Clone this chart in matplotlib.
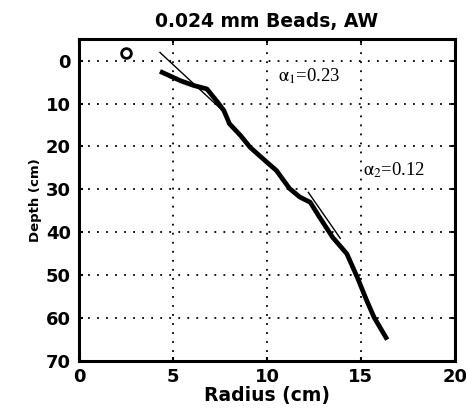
import matplotlib
matplotlib.use("Agg")
import matplotlib.pyplot as plt

# measured profile (radius cm, depth cm)
radius = [4.3, 5.4, 6.1, 6.8, 7.3, 7.7, 8.0, 8.6, 9.1, 10.0, 10.5, 11.2, 11.75, 12.3, 12.8, 13.5, 14.25, 14.8, 15.3, 15.7, 16.4]
depth = [2.5, 4.7, 5.8, 6.6, 9.3, 11.6, 14.7, 17.5, 20.2, 23.7, 25.6, 29.8, 31.8, 33.0, 36.5, 41.2, 45.0, 50.4, 55.8, 59.8, 65.0]

# fitted slopes
fit1_r = [4.3, 7.6]
fit1_d = [-1.9, 11.5]
fit2_r = [12.2, 13.9]
fit2_d = [30.7, 41.4]

marker_r = [2.5]
marker_d = [-1.8]

alpha_labels = [r"$\mathrm{\alpha_1}$=0.23", r"$\mathrm{\alpha_2}$=0.12"]
alpha_pos = [(10.6, 3.5), (15.1, 25.6)]

xticks = [0, 5, 10, 15, 20]
yticks = [0, 10, 20, 30, 40, 50, 60, 70]

plt.rcParams["mathtext.fontset"] = "stix"

fig = plt.figure(figsize=(4.66, 4.08), dpi=100)
ax = fig.add_axes([0.170, 0.115, 0.806, 0.789])

ax.plot(radius, depth, color="black", lw=3.4, solid_capstyle="butt", solid_joinstyle="round")
ax.plot(fit1_r, fit1_d, color="black", lw=1.0)
ax.plot(fit2_r, fit2_d, color="black", lw=1.0)
ax.plot(marker_r, marker_d, "o", mfc="white", mec="black", mew=2.0, ms=7)

for lab, (x, y) in zip(alpha_labels, alpha_pos):
    ax.text(x, y, lab, fontsize=13.5, family="Liberation Serif", ha="left", va="center")

ax.set_xlim(0, 20)
ax.set_ylim(70, -5)
ax.set_xticks(xticks)
ax.set_yticks(yticks)
ax.set_xticklabels([str(t) for t in xticks], fontweight="heavy", fontsize=13)
ax.set_yticklabels([str(t) for t in yticks], fontweight="heavy", fontsize=13)
ax.grid(True, color="black", linestyle=(0, (1, 4)), lw=1.3)
for s in ax.spines.values():
    s.set_linewidth(2.2)
ax.tick_params(direction="in", length=3, width=1.5, top=True, right=True)
ax.tick_params(axis="y", pad=6)
ax.tick_params(axis="x", pad=5)

ax.set_title("0.024 mm Beads, AW", fontweight="heavy", fontsize=13.5, pad=9)
ax.set_xlabel("Radius (cm)", fontweight="heavy", fontsize=13.5, labelpad=0)
ax.set_ylabel("Depth (cm)", fontweight="heavy", fontsize=9.5, labelpad=3)

fig.savefig("out.png", dpi=100)
